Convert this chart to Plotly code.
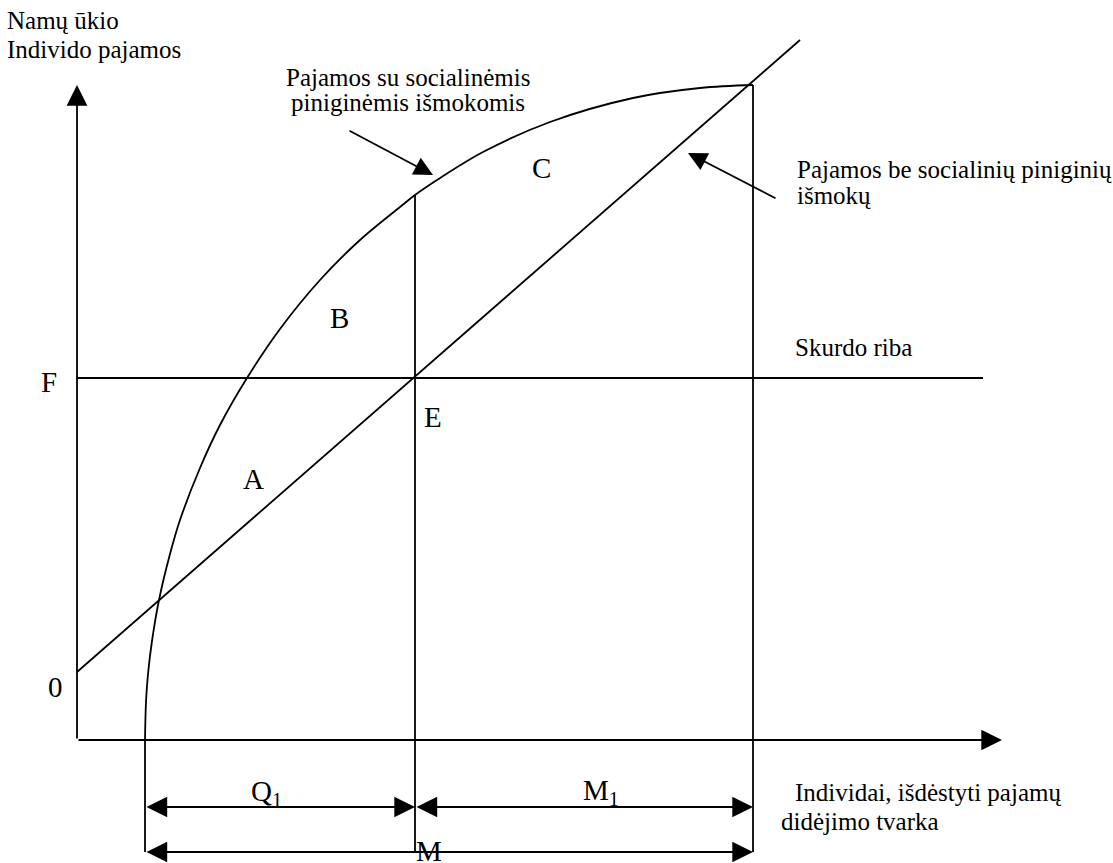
import plotly.graph_objects as go

# ---- data (diagram coordinates: origin at axis intersection) ----
curve_x = [68, 69, 71, 75, 82, 93, 103, 123, 143, 170, 203, 243, 283, 323, 338, 360, 406, 473, 556, 623, 676]
curve_y = [0, 38, 66, 99, 140, 186, 220, 272, 315, 362, 411, 460, 500, 533, 545, 560, 588, 618, 642, 652, 655]

line_x = [0, 723]
line_y = [68, 700]

poverty_x = [0, 906]
poverty_y = [362, 362]

q_start, e_x, m_end = 68, 338, 676
curve_top_e, curve_top_m = 545, 655
dim_row1, dim_row2 = -67, -112

axis_y_top = 655
axis_x_end = 925

labels = ["A", "B", "C", "E", "F", "0"]
labels_x = [176, 262, 464, 356, -28, -22]
labels_y = [261, 422, 572, 323, 358, 53]

dim_labels = ["Q<sub>1</sub>", "M<sub>1</sub>", "M"]
dim_labels_x = [189, 524, 352]
dim_labels_y = [-53, -52, -111]

texts = ["Namų ūkio", "Individo pajamos",
         "Pajamos su socialinėmis", "piniginėmis išmokomis",
         "Pajamos be socialinių piniginių", "išmokų",
         "Skurdo riba",
         "Individai, išdėstyti pajamų", "didėjimo tvarka"]
texts_x = [-72, -72, 331, 331, 718, 718, 716, 716, 702]
texts_y = [719.5, 690.5, 662.5, 637.5, 570.5, 544.5, 392.5, -52.5, -81.5]
texts_anchor = ["left", "left", "center", "center", "left", "left", "left", "left", "left"]

pointer_tail = [(271, 610), (700, 541)]
pointer_head = [(356, 565), (611, 587)]

# ---- figure ----
LW = 1.8
BLACK = "black"
fig = go.Figure()

def add_line(xs, ys, shape="linear"):
    fig.add_trace(go.Scatter(x=xs, y=ys, mode="lines",
                             line=dict(color=BLACK, width=LW, shape=shape),
                             hoverinfo="skip", showlegend=False))

add_line(curve_x, curve_y, shape="spline")
add_line(line_x, line_y)
add_line(poverty_x, poverty_y)
add_line([e_x, e_x], [curve_top_e, dim_row2])
add_line([m_end, m_end], [curve_top_m, dim_row2])
add_line([q_start, q_start], [0, dim_row2])

annotations = []

def arrow(tail, head, both=False, size=2.3):
    a = dict(x=head[0], y=head[1], ax=tail[0], ay=tail[1],
             xref="x", yref="y", axref="x", ayref="y",
             text="", showarrow=True, arrowhead=2, arrowsize=size,
             arrowwidth=LW, arrowcolor=BLACK, standoff=0, startstandoff=0)
    if both:
        a.update(arrowside="end+start", startarrowhead=2, startarrowsize=size)
    annotations.append(a)

# axes
arrow((0, 0), (0, axis_y_top))
arrow((0, 0), (axis_x_end, 0))
# dimension arrows
arrow((q_start, dim_row1), (e_x, dim_row1), both=True)
arrow((e_x, dim_row1), (m_end, dim_row1), both=True)
arrow((q_start, dim_row2), (m_end, dim_row2), both=True)
# pointers
for t, h in zip(pointer_tail, pointer_head):
    arrow(t, h, size=2.1)

FONT = "Liberation Serif, Times New Roman, serif"
for t, x, y, anc in zip(texts, texts_x, texts_y, texts_anchor):
    annotations.append(dict(x=x, y=y, xref="x", yref="y", text=t, showarrow=False,
                            xanchor=anc, yanchor="middle",
                            font=dict(family=FONT, size=25, color=BLACK)))
for t, x, y in zip(labels + dim_labels, labels_x + dim_labels_x, labels_y + dim_labels_y):
    annotations.append(dict(x=x, y=y, xref="x", yref="y", text=t, showarrow=False,
                            xanchor="center", yanchor="middle",
                            font=dict(family=FONT, size=29, color=BLACK)))

fig.update_layout(
    width=1113, height=863, autosize=False,
    margin=dict(l=0, r=0, t=0, b=0),
    paper_bgcolor="white", plot_bgcolor="white",
    xaxis=dict(range=[-77, 1036], visible=False, fixedrange=True),
    yaxis=dict(range=[-123, 740], visible=False, fixedrange=True),
    annotations=annotations,
    font=dict(family=FONT, color=BLACK),
    showlegend=False,
)

fig.write_html("out.html", config={"displayModeBar": False},
               post_script="document.body.style.margin='0';")
